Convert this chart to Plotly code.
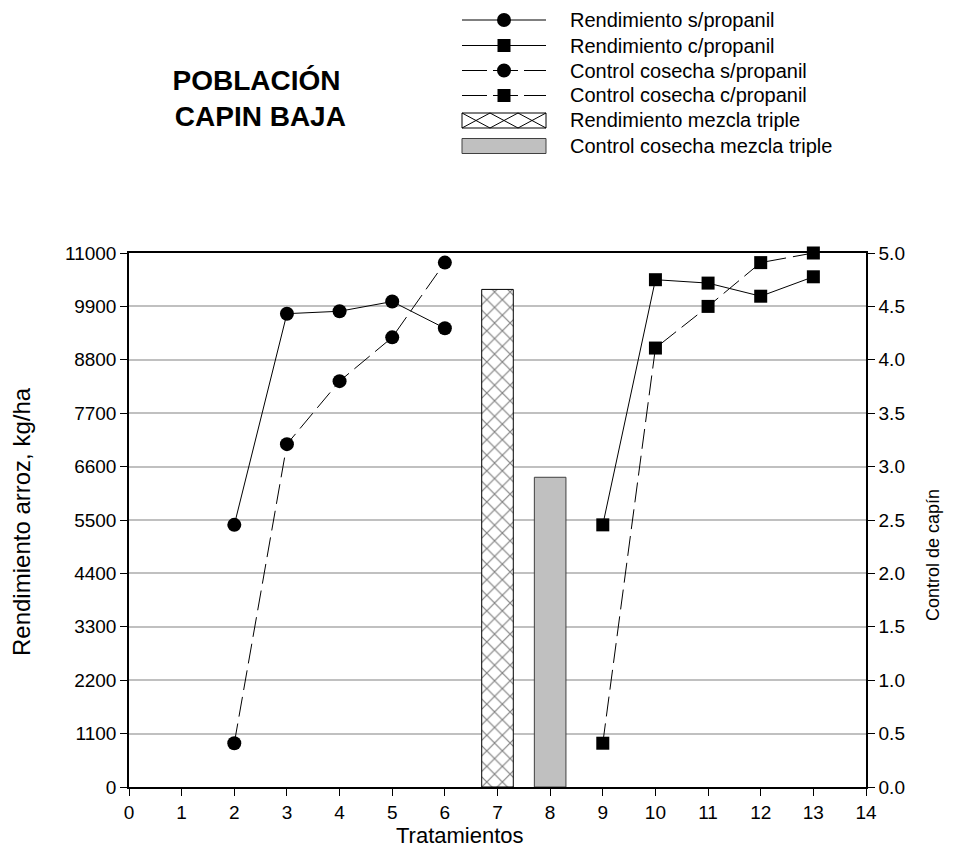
import plotly.graph_objects as go

# ---------------- data ----------------
x_sin = [2, 3, 4, 5, 6]
x_con = [9, 10, 11, 12, 13]
rend_sin = [5400, 9750, 9800, 10000, 9450]          # Rendimiento s/propanil (kg/ha)
rend_con = [5400, 10450, 10380, 10110, 10510]       # Rendimiento c/propanil (kg/ha)
ctrl_sin = [0.41, 3.21, 3.80, 4.21, 4.91]           # Control cosecha s/propanil
ctrl_con = [0.41, 4.11, 4.50, 4.91, 5.00]           # Control cosecha c/propanil
x_mezcla_rend = [7]
rend_mezcla = [10250]                               # Rendimiento mezcla triple
x_mezcla_ctrl = [8]
ctrl_mezcla = [2.9]                                 # Control cosecha mezcla triple

left_ticks = [0, 1100, 2200, 3300, 4400, 5500, 6600, 7700, 8800, 9900, 11000]
left_ticktext = [str(v) for v in left_ticks]
x_ticks = list(range(0, 15))

legend_names = ["Rendimiento s/propanil", "Rendimiento c/propanil",
                "Control cosecha s/propanil", "Control cosecha c/propanil",
                "Rendimiento mezcla triple", "Control cosecha mezcla triple"]

FONT = "Arial, Liberation Sans, sans-serif"
OFF = 8                      # default page body margin
FW, FH = 953 - 2 * OFF, 849 - OFF
L, R, T, B = 129, 866, 253, 787   # plot area in page pixels

fig = go.Figure()

dash = "20px,7px"
fig.add_trace(go.Bar(x=x_mezcla_rend, y=rend_mezcla, width=0.6, yaxis="y",
                     marker=dict(color="white", line=dict(color="black", width=1),
                                 pattern=dict(shape="x", fgcolor="black", bgcolor="white",
                                              size=11, solidity=0.2)),
                     showlegend=False))
fig.add_trace(go.Bar(x=x_mezcla_ctrl, y=ctrl_mezcla, width=0.6, yaxis="y2",
                     marker=dict(color="#c0c0c0", line=dict(color="#404040", width=1)),
                     showlegend=False))
fig.add_trace(go.Scatter(x=x_sin, y=rend_sin, mode="lines+markers", yaxis="y",
                         line=dict(color="black", width=1),
                         marker=dict(symbol="circle", size=14, color="black"),
                         cliponaxis=False, showlegend=False))
fig.add_trace(go.Scatter(x=x_con, y=rend_con, mode="lines+markers", yaxis="y",
                         line=dict(color="black", width=1),
                         marker=dict(symbol="square", size=13, color="black"),
                         cliponaxis=False, showlegend=False))
fig.add_trace(go.Scatter(x=x_sin, y=ctrl_sin, mode="lines+markers", yaxis="y2",
                         line=dict(color="black", width=1, dash=dash),
                         marker=dict(symbol="circle", size=14, color="black"),
                         cliponaxis=False, showlegend=False))
fig.add_trace(go.Scatter(x=x_con, y=ctrl_con, mode="lines+markers", yaxis="y2",
                         line=dict(color="black", width=1, dash=dash),
                         marker=dict(symbol="square", size=13, color="black"),
                         cliponaxis=False, showlegend=False))

# ---------------- custom legend ----------------
def px_x(px):
    return (px - L) / (R - L)

def px_y(py):
    return (B - py) / (B - T)

rows = [20, 45.5, 70.5, 95.5, 120.5, 146]
lx0, lx1, lxm, ltx = 462, 546, 504, 568
shapes = []
annotations = []
for i, (name, row) in enumerate(zip(legend_names, rows)):
    yy = px_y(row)
    if i < 4:
        shapes.append(dict(type="line", xref="paper", yref="paper",
                           x0=px_x(lx0), x1=px_x(lx1), y0=yy, y1=yy,
                           line=dict(color="black", width=1,
                                     dash="solid" if i < 2 else "25px,6px")))
        if i % 2 == 0:
            shapes.append(dict(type="circle", xref="paper", yref="paper",
                               xsizemode="pixel", ysizemode="pixel",
                               xanchor=px_x(lxm), yanchor=yy,
                               x0=-7, x1=7, y0=-7, y1=7,
                               fillcolor="black", line=dict(color="black", width=0)))
        else:
            shapes.append(dict(type="rect", xref="paper", yref="paper",
                               xsizemode="pixel", ysizemode="pixel",
                               xanchor=px_x(lxm), yanchor=yy,
                               x0=-6.5, x1=6.5, y0=-6.5, y1=6.5,
                               fillcolor="black", line=dict(color="black", width=0)))
    elif i == 4:
        top, bot = row - 7.5, row + 7.5
        shapes.append(dict(type="rect", xref="paper", yref="paper",
                           x0=px_x(lx0), x1=px_x(lx1), y0=px_y(bot), y1=px_y(top),
                           fillcolor="white", line=dict(color="black", width=1)))
        path = ""
        cw = (lx1 - lx0) / 3
        for k in range(3):
            a = lx0 + k * cw
            path += "M{},{} L{},{} ".format(px_x(a), px_y(top), px_x(a + cw), px_y(bot))
            path += "M{},{} L{},{} ".format(px_x(a + cw), px_y(top), px_x(a), px_y(bot))
        shapes.append(dict(type="path", xref="paper", yref="paper", path=path,
                           line=dict(color="black", width=1)))
    else:
        top, bot = row - 7.5, row + 7.5
        shapes.append(dict(type="rect", xref="paper", yref="paper",
                           x0=px_x(lx0), x1=px_x(lx1), y0=px_y(bot), y1=px_y(top),
                           fillcolor="#c0c0c0", line=dict(color="#404040", width=1)))
    annotations.append(dict(text=name, xref="paper", yref="paper", x=px_x(ltx), y=yy,
                            xanchor="left", yanchor="middle", showarrow=False,
                            font=dict(family=FONT, size=20, color="black")))

annotations.append(dict(text="<b>POBLACIÓN<br> CAPIN BAJA</b>", xref="paper", yref="paper",
                        x=px_x(256), y=px_y(99), xanchor="center", yanchor="middle",
                        showarrow=False, align="center",
                        font=dict(family=FONT, size=28, color="black")))
# axis titles
annotations.append(dict(text="Tratamientos", xref="paper", yref="paper",
                        x=px_x(460), y=px_y(835), xanchor="center", yanchor="middle",
                        showarrow=False, font=dict(family=FONT, size=22, color="black")))
annotations.append(dict(text="Rendimiento arroz, kg/ha", xref="paper", yref="paper",
                        x=px_x(21), y=px_y(522), xanchor="center", yanchor="middle",
                        textangle=-90, showarrow=False,
                        font=dict(family=FONT, size=24, color="black")))
annotations.append(dict(text="Control de capín", xref="paper", yref="paper",
                        x=px_x(933), y=px_y(555), xanchor="center", yanchor="middle",
                        textangle=-90, showarrow=False,
                        font=dict(family=FONT, size=18, color="black")))

fig.update_layout(
    width=FW, height=FH,
    margin=dict(l=L - OFF, r=FW - (R - OFF), t=T - OFF, b=FH - (B - OFF), pad=0),
    paper_bgcolor="white", plot_bgcolor="white",
    barmode="overlay",
    showlegend=False,
    font=dict(family=FONT, size=18, color="black"),
    xaxis=dict(range=[0, 14], tickvals=x_ticks, ticks="outside", ticklen=7,
               tickcolor="black", showline=True, linecolor="black", linewidth=1.5,
               mirror=True, showgrid=False, zeroline=False,
               tickfont=dict(size=19)),
    yaxis=dict(range=[0, 11000], tickvals=left_ticks, ticktext=left_ticktext,
               ticks="outside", ticklen=7,
               tickcolor="black", showline=True, linecolor="black", linewidth=1.5,
               showgrid=True, gridcolor="#c0c0c0", gridwidth=1.5, zeroline=False,
               tickfont=dict(size=19)),
    yaxis2=dict(range=[0, 5], dtick=0.5, tickformat=".1f", overlaying="y", side="right",
                ticks="outside", ticklen=7, tickcolor="black", showline=True,
                linecolor="black", linewidth=1.5, showgrid=False, zeroline=False,
                tickfont=dict(size=19)),
    shapes=shapes,
    annotations=annotations,
)

fig.write_html("out.html")
